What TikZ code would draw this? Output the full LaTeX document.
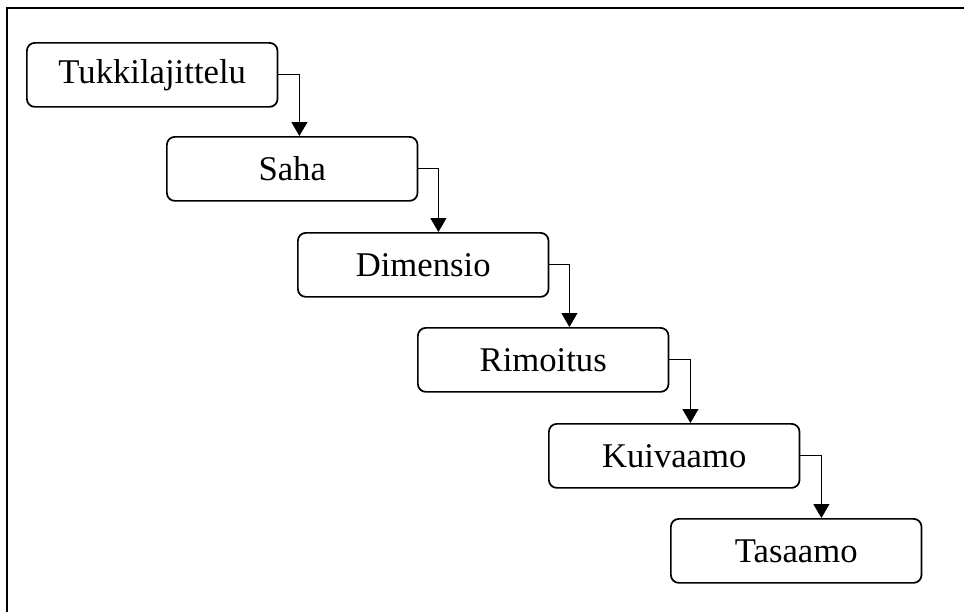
\documentclass[tikz,border=0pt]{standalone}
\usepackage{fontspec}
\setmainfont{Liberation Serif}
\usetikzlibrary{arrows.meta}
\begin{document}
\begin{tikzpicture}[x=0.75pt,y=-0.75pt,
  stage/.style={draw, line width=1.3pt, rounded corners=6pt, minimum width=188pt,
    minimum height=48pt, inner sep=0pt, anchor=north west, font=\fontsize{26}{30}\selectfont},
  flow/.style={line width=0.9pt, -{Triangle[width=12pt,length=10.5pt]}},
  frame/.style={line width=1.3pt}]
\useasboundingbox (0,0) rectangle (964,612);
% outer frame, running past the page on the right and bottom
\draw[frame] (7,612) -- (7,8) -- (964,8);
% process stages
\node[stage] (s1) at (26,42)   {Tukkilajittelu};
\node[stage] (s2) at (166,136) {Saha};
\node[stage] (s3) at (297,232) {Dimensio};
\node[stage] (s4) at (417,327) {Rimoitus};
\node[stage] (s5) at (548,423) {Kuivaamo};
\node[stage] (s6) at (670,518) {Tasaamo};
% connectors: out of the right side, then down onto the next stage
\draw[flow] (s1.east) -- ++(21,0) coordinate (k1) -- (k1 |- s2.north);
\draw[flow] (s2.east) -- ++(20,0) coordinate (k2) -- (k2 |- s3.north);
\draw[flow] (s3.east) -- ++(20,0) coordinate (k3) -- (k3 |- s4.north);
\draw[flow] (s4.east) -- ++(21,0) coordinate (k4) -- (k4 |- s5.north);
\draw[flow] (s5.east) -- ++(21,0) coordinate (k5) -- (k5 |- s6.north);
\end{tikzpicture}
\end{document}
